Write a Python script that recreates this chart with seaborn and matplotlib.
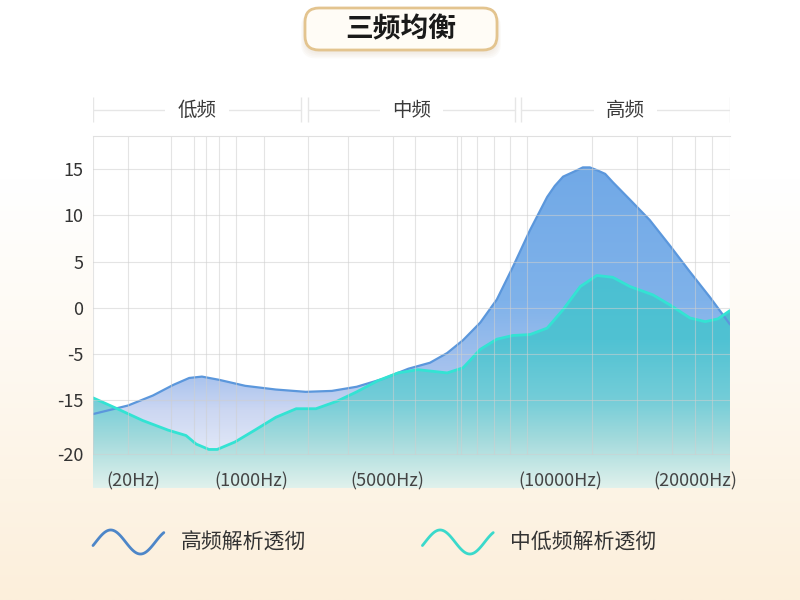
import numpy as np
import pandas as pd
import seaborn as sns
import matplotlib
matplotlib.use('Agg')
import matplotlib.pyplot as plt
from matplotlib.colors import LinearSegmentedColormap
from matplotlib.patches import FancyBboxPatch
from matplotlib.legend_handler import HandlerBase
from matplotlib.lines import Line2D


# Data (x is position along the plot, 0-100; y in dB as labelled)
high_x = [0, 5.5, 9.4, 12.6, 15.1, 17.1, 19.8, 23.9, 28.7, 33.4, 37.5, 41.4, 45.5, 49.5, 52.9, 55.6,
          58.1, 60.8, 63.4, 65.9, 68.6, 71.3, 72.5, 73.8, 75.7, 76.9, 78.0, 79.1, 80.4, 81.6, 84.3, 87.4,
          90.6, 93.7, 96.9, 100]
high_y = [-16.3, -15.5, -14.0, -11.7, -10.2, -9.9, -10.6, -11.9, -12.7, -13.2, -13.0, -12.1, -10.4, -8.2, -6.9, -4.9,
          -3.5, -1.6, 0.9, 4.4, 8.4, 12.0, 13.2, 14.2, 14.8, 15.2, 15.2, 14.9, 14.5, 13.6, 11.7, 9.5,
          6.7, 3.9, 1.1, -1.8]

mid_x = [0, 3.8, 7.8, 11.8, 14.6, 16.2, 18.2, 19.5, 22.3, 25.4, 28.7, 31.9, 35.0, 38.3, 41.4, 44.7, 47.9, 51.0,
         55.6, 58.1, 60.8, 63.4, 65.9, 68.6, 71.3, 73.8, 76.5, 79.1, 81.6, 84.3, 87.9, 90.6, 93.7, 96.1, 98.1, 100]
mid_y = [-14.5, -15.8, -16.9, -17.8, -18.3, -19.1, -19.6, -19.6, -18.9, -17.8, -16.6, -15.8, -15.8, -15.1, -13.2,
         -10.8, -9.1, -8.4, -9.1, -8.0, -4.5, -3.4, -3.0, -2.9, -2.2, -0.2, 2.3, 3.5, 3.3, 2.3, 1.4, 0.3, -1.1,
         -1.5, -1.2, -0.3]

series_names = ['高频解析透彻', '中低频解析透彻']

ytick_vals = [15, 10, 5, 0, -5, -15, -20]
ytick_labels = ['15', '10', '5', '0', '-5', '-15', '-20']

xtick_pos = [6.3, 24.8, 46.2, 73.3, 94.5]
xtick_labels = ['(20Hz)', '(1000Hz)', '(5000Hz)', '(10000Hz)', '(20000Hz)']

grid_x = [0, 5.5, 12.2, 15.9, 17.7, 19.8, 22.4, 26.8, 33.8, 40.0, 47.1, 50.5, 57.1, 57.8, 60.3, 63.0,
          65.5, 68.1, 78.3, 85.4, 90.9, 94.5, 97.2, 100]

band_names = ['低频', '中频', '高频']
band_start = [0, 33.75, 67.2]
band_end = [32.65, 66.25, 100]

# the value axis is not evenly spaced: -15 and -20 are squeezed in
label_stops = [-40, -20, -15, -5, 0, 5, 10, 15, 40]
pos_stops = [-39.0, -15.8, -10, -5, 0, 5, 10, 15, 40]

y_bottom, y_top = -23.2, 18.6


def forward(v):
    return np.interp(v, label_stops, pos_stops)


def inverse(p):
    return np.interp(p, pos_stops, label_stops)


class SineHandler(HandlerBase):
    def create_artists(self, legend, orig_handle, xdescent, ydescent, width, height, fontsize, trans):
        t = np.linspace(0, 1, 60)
        s = np.sin(2 * np.pi * (t - 0.25) / 0.84 + np.pi / 2)
        line = Line2D(-xdescent + t * width, -ydescent + (s + 1) / 2 * height,
                      color=orig_handle.get_color(), lw=orig_handle.get_linewidth(),
                      solid_capstyle='round', transform=trans)
        return [line]


sns.set_theme(style='white')
plt.rcParams['font.family'] = ['Noto Sans CJK SC', 'DejaVu Sans']

fig = plt.figure(figsize=(8, 6), dpi=100)

# Background canvas in pixel units
bg = fig.add_axes([0, 0, 1, 1], zorder=-10)
bg.axis('off')
bg_cmap = LinearSegmentedColormap.from_list('bg', [(0, '#ffffff'), (0.3, '#ffffff'), (0.6, '#fef9f1'),
                                                   (1, '#fcefdb')])
bg.imshow(np.linspace(0, 1, 256).reshape(-1, 1), extent=[0, 800, 600, 0], aspect='auto',
          cmap=bg_cmap, origin='upper')

# title badge
for k in range(5):
    bg.add_patch(FancyBboxPatch((305 - k, 10 + k * 0.6), 192 + 2 * k, 42 + k, boxstyle='round,pad=0,rounding_size=15',
                                fc='#b09060', ec='none', alpha=0.04))
bg.add_patch(FancyBboxPatch((305, 8), 192, 42, boxstyle='round,pad=0,rounding_size=14',
                            fc='#fffcf6', ec='#e3c48f', lw=2))
bg.text(401, 29, '三频均衡', ha='center', va='center', fontsize=20, fontweight='bold', color='#1a1a1a')
bg.set_xlim(0, 800)
bg.set_ylim(600, 0)

# Band header
hax = fig.add_axes([93 / 800, 1 - 125 / 600, 637 / 800, 30 / 600])
hax.set_xlim(0, 100)
hax.set_ylim(0, 1)
hax.axis('off')
for name, s, e in zip(band_names, band_start, band_end):
    hax.plot([s, e], [0.5, 0.5], color='#e6e6e6', lw=1)
    hax.vlines([s, e], 0.1, 0.93, color='#e6e6e6', lw=1)
    hax.text((s + e) / 2, 0.5, name, ha='center', va='center', fontsize=14, color='#3a3a3a',
             bbox=dict(fc='white', ec='none', pad=9))

# Main chart
ax = fig.add_axes([93 / 800, 1 - 488 / 600, 637 / 800, 352 / 600])
ax.set_facecolor('white')
ax.set_yscale('function', functions=(forward, inverse))

df_high = pd.DataFrame({'x': high_x, 'y': high_y})
df_mid = pd.DataFrame({'x': mid_x, 'y': mid_y})

grad = np.linspace(0, 1, 256).reshape(-1, 1)
blue_cmap = LinearSegmentedColormap.from_list('blue', [(0, '#eef2fa'), (0.11, '#e0e7f7'), (0.22, '#ccd7f2'),
                                                       (0.31, '#abc4ee'), (0.53, '#7fb2ea'), (1, '#6ea7e6')])
teal_cmap = LinearSegmentedColormap.from_list('teal', [(0, '#e0f1ec'), (0.14, '#a2dadc'), (0.25, '#74cdd8'),
                                                       (0.42, '#50c2d3'), (1, '#3fbad0')])

for df, cmap, z in [(df_high, blue_cmap, 1.0), (df_mid, teal_cmap, 1.2)]:
    poly = ax.fill_between(df['x'], df['y'], y_bottom, color='none', lw=0)
    im = ax.imshow(grad, extent=[0, 1, 0, 1], transform=ax.transAxes, aspect='auto', origin='lower',
                   cmap=cmap, zorder=z)
    im.set_clip_path(poly.get_paths()[0], transform=ax.transData)

sns.lineplot(data=df_high, x='x', y='y', ax=ax, color='#5b97dc', lw=1.6, sort=False, estimator=None, zorder=2)
sns.lineplot(data=df_mid, x='x', y='y', ax=ax, color='#33e3d3', lw=2, sort=False, estimator=None, zorder=2.1)
for ln in ax.get_lines():
    ln.set_solid_joinstyle('round')

# grid
ax.set_axisbelow(False)
ax.vlines(grid_x, -20, y_top, colors='#cfcfcf', lw=0.8, alpha=0.55, zorder=2.4)
ax.set_yticks(ytick_vals, ytick_labels)
ax.yaxis.grid(True, color='#cfcfcf', lw=0.8, alpha=0.55)
ax.xaxis.grid(False)
ax.set_xticks(xtick_pos, xtick_labels)

for side in ['left', 'right', 'bottom']:
    ax.spines[side].set_visible(False)
ax.spines['top'].set_color('#e0e0e0')
ax.spines['top'].set_linewidth(0.8)

ax.tick_params(axis='y', length=0, pad=7, labelsize=13, labelcolor='#333333')
ax.tick_params(axis='x', length=0, pad=-11, labelsize=13, labelcolor='#444444')
ax.set_xlabel('')
ax.set_ylabel('')
ax.set_xlim(0, 100)
ax.set_ylim(y_bottom, y_top)

# Legend with wave icons
handles = [Line2D([], [], color='#4d86c8', lw=2), Line2D([], [], color='#3ad9cb', lw=2)]
fig.legend(handles, series_names, handler_map={Line2D: SineHandler()}, ncol=2, loc='center left',
           bbox_to_anchor=(93 / 800, 1 - 542 / 600), frameon=False, fontsize=15, handlelength=3.4,
           handleheight=1.4, handletextpad=0.8, columnspacing=5.6, borderpad=0, borderaxespad=0,
           labelcolor='#333333')

fig.savefig('out.png', dpi=100)
